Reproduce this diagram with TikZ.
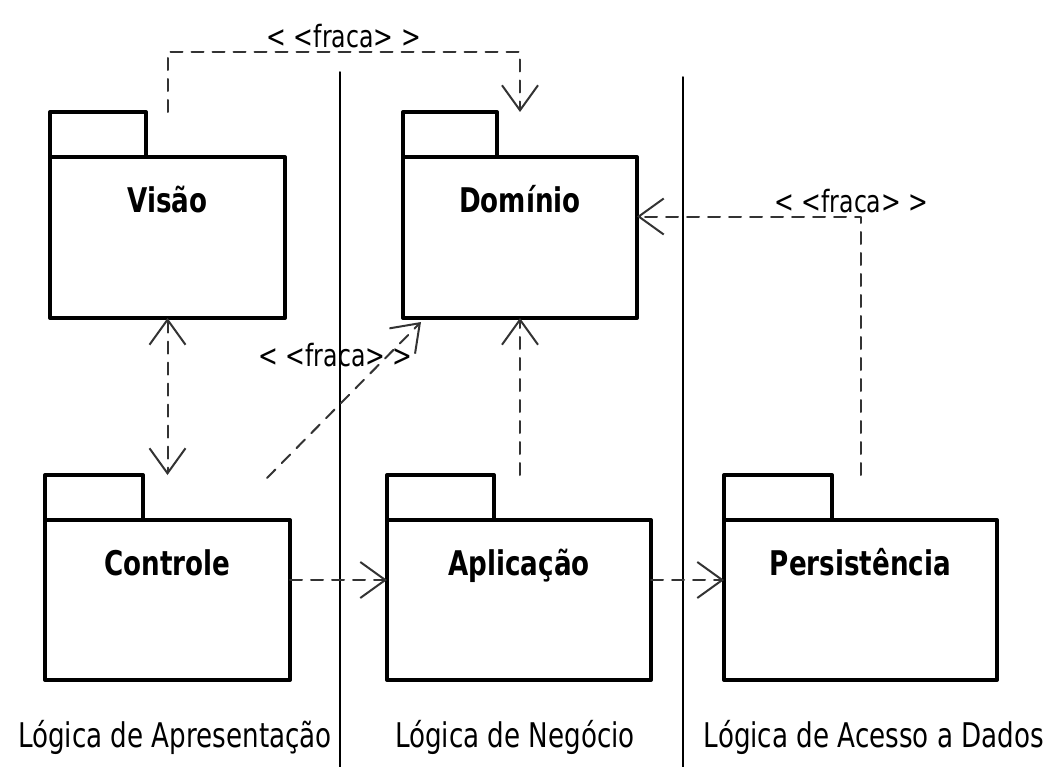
\documentclass[tikz,border=0pt]{standalone}
\usepackage{fontspec}
\setmainfont{DejaVu Sans}[FakeStretch=0.77]
\usepackage{tikz}
\usetikzlibrary{arrows.meta}
\definecolor{cinza}{rgb}{0.2,0.2,0.2}
\tikzset{
  pacote/.style={draw,line width=3pt,inner sep=0pt,outer sep=0pt,anchor=north west},
  aba/.style={draw,line width=3pt,inner sep=0pt,outer sep=0pt,anchor=south west,minimum height=33.75pt},
  nome/.style={anchor=base,font=\fontsize{25.5}{28}\selectfont\bfseries},
  camada/.style={anchor=base,font=\fontsize{25.5}{28}\selectfont},
  fraca/.style={text=black,inner sep=2pt,font=\fontsize{23}{26}\selectfont},
  dep/.style={color=cinza,line width=1.5pt,dash pattern=on 9pt off 6.75pt}
}

\begin{document}
\begin{tikzpicture}[line cap=round,line join=round,
  >={Straight Barb[length=18.75pt,width=27pt]},x=0.75pt,y=-0.75pt]
  \useasboundingbox (0,0) rectangle (1058,767);
  \draw[line width=1.125pt] (340,72) -- (340,767);
  \draw[line width=1.125pt] (683,77) -- (683,767);
  % pacotes
  \node[pacote,minimum width=176.25pt,minimum height=120.75pt] (vis) at (50,157) {};
  \node[aba,minimum width=72pt] (visaba) at (vis.north west) {};
  \node[nome] (visnome) at ([yshift=-42pt]vis.north) {Visão};
  \node[pacote,minimum width=175.5pt,minimum height=120.75pt] (dom) at (403,157) {};
  \node[aba,minimum width=70.5pt] (domaba) at (dom.north west) {};
  \node[nome] (domnome) at ([yshift=-42pt]dom.north) {Domínio};
  \node[pacote,minimum width=183.75pt,minimum height=120pt] (ctl) at (45,520) {};
  \node[aba,minimum width=73.5pt] (ctlaba) at (ctl.north west) {};
  \node[nome] (ctlnome) at ([yshift=-41.25pt]ctl.north) {Controle};
  \node[pacote,minimum width=198pt,minimum height=120pt] (apl) at (387,520) {};
  \node[aba,minimum width=80.25pt] (aplaba) at (apl.north west) {};
  \node[nome] (aplnome) at ([yshift=-41.25pt]apl.north) {Aplicação};
  \node[pacote,minimum width=204.75pt,minimum height=120pt] (per) at (724,520) {};
  \node[aba,minimum width=81pt] (peraba) at (per.north west) {};
  \node[nome] (pernome) at ([yshift=-41.25pt]per.north) {Persistência};
  % dependencias
  \draw[dep,->] (vis.north |- visaba.north) -- ++(0,-60) -| (dom.north |- domaba.north)
    node[fraca,pos=.25,above] (fraca1) {< <fraca> >};
  \draw[dep,<->] (vis.south) -- (vis.south |- ctlaba.north);
  \draw[dep,->] ([shift={(-23,-42)}]ctl.north east) -- ([shift={(18,4)}]dom.south west)
    node[fraca,pos=.79,xshift=-39.75pt] (fraca2) {< <fraca> >};
  \draw[dep,->] (dom.south |- aplaba.north) -- (dom.south);
  \draw[dep,->] (per.north |- peraba.north) |- ([yshift=15.75pt]dom.east)
    node[fraca,pos=.5,above,xshift=-6.75pt] (fraca3) {< <fraca> >};
  \draw[dep,->] ([yshift=15pt]ctl.east) -- ([yshift=15pt]apl.west);
  \draw[dep,->] ([yshift=15pt]apl.east) -- ([yshift=15pt]per.west);
  % camadas
  \node[camada] (cam1) at (175,747) {Lógica de Apresentação};
  \node[camada] (cam2) at (515,747) {Lógica de Negócio};
  \node[camada] (cam3) at (874,747) {Lógica de Acesso a Dados};
\end{tikzpicture}
\end{document}
